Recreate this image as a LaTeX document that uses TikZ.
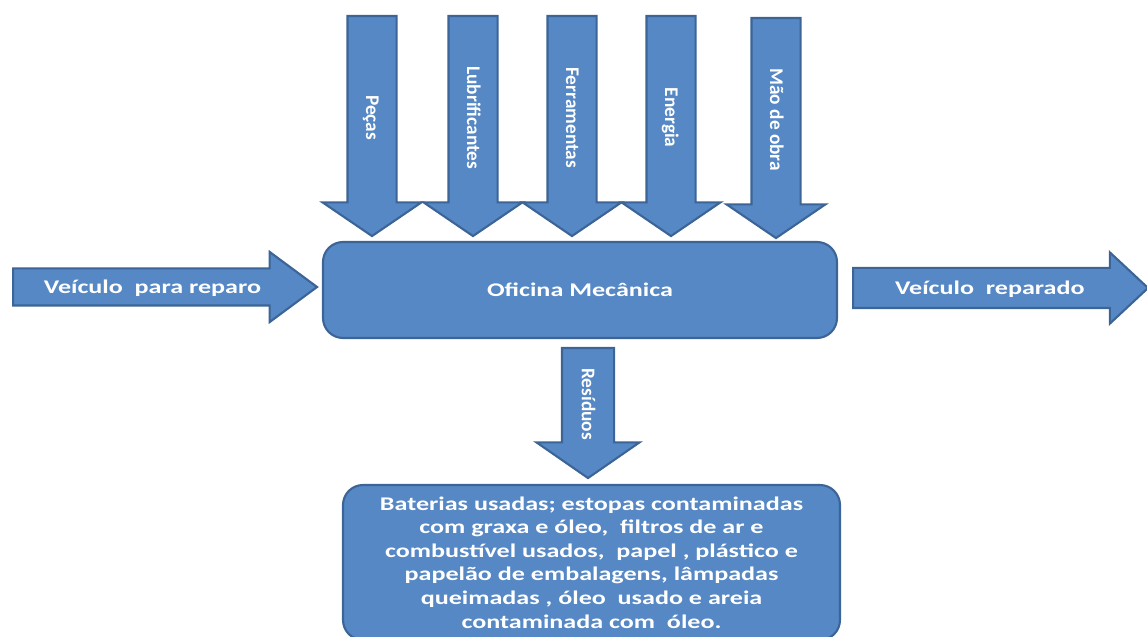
\documentclass[tikz,border=0pt]{standalone}
\usepackage{fontspec}
\setmainfont{Carlito}
\newfontfamily\largafont[FakeStretch=1.35]{Carlito}
\usepackage{xcolor}
\usetikzlibrary{shapes.arrows}

\definecolor{azul}{RGB}{86,136,197}
\definecolor{azulborda}{RGB}{60,100,150}

\begin{document}
\begin{tikzpicture}[
  seta/.style={single arrow, draw=azulborda, fill=azul, line width=1.2pt,
               inner xsep=0pt, inner ysep=0pt, text=white,
               font=\bfseries\fontsize{11}{13}\selectfont},
  entrada/.style={seta, rotate=-90, anchor=tail, text height=0.59cm, text depth=0.35cm,
                  single arrow head extend=0.5cm, single arrow tip angle=111.5,
                  minimum height=4.4cm},
  caixa/.style={draw=azulborda, fill=azul, line width=1.2pt, rounded corners=0.4cm,
                text=white, font=\largafont\bfseries\fontsize{11}{13.4}\selectfont},
]
\useasboundingbox (0,0) rectangle (22.94,-12.74);

% Oficina
\node[caixa, minimum width=10.28cm, minimum height=1.92cm] (oficina) at (11.60,-5.80) {Oficina Mecânica};

% Entradas
\node[entrada] (pecas)         at (7.44,-0.30)  {Peças};
\node[entrada] (lubrificantes) at (9.46,-0.30)  {Lubrificantes};
\node[entrada] (ferramentas)   at (11.44,-0.30) {Ferramentas};
\node[entrada] (energia)       at (13.42,-0.30) {Energia};
\node[entrada] (maodeobra)     at (15.52,-0.34) {Mão de obra};

% Veículo
\node[seta, anchor=tail, minimum height=6.08cm, text height=0.475cm, text depth=0.225cm,
      single arrow head extend=0.33cm, single arrow tip angle=73] (reparo) at (0.24,-5.74)
      {\largafont Veículo~ para reparo};
\node[seta, anchor=tail, minimum height=5.90cm, text height=0.505cm, text depth=0.255cm,
      single arrow head extend=0.31cm, single arrow tip angle=86] (reparado) at (17.04,-5.76)
      {\largafont Veículo~ reparado};

% Resíduos
\node[seta, rotate=-90, anchor=tail, minimum height=2.60cm, text height=0.625cm, text depth=0.375cm,
      single arrow head extend=0.51cm, single arrow tip angle=110.6] (saida) at (11.76,-6.94) {Resíduos};
\node[caixa, minimum width=9.94cm, minimum height=3.10cm, align=center] (residuos) at (11.83,-11.25)
  {Baterias usadas; estopas contaminadas\\
   com graxa e óleo,~ filtros de ar e\\
   combustível usados,~ papel , plástico e\\
   papelão de embalagens, lâmpadas\\
   queimadas , óleo~ usado e areia\\
   contaminada com~ óleo.};

\end{tikzpicture}
\end{document}
